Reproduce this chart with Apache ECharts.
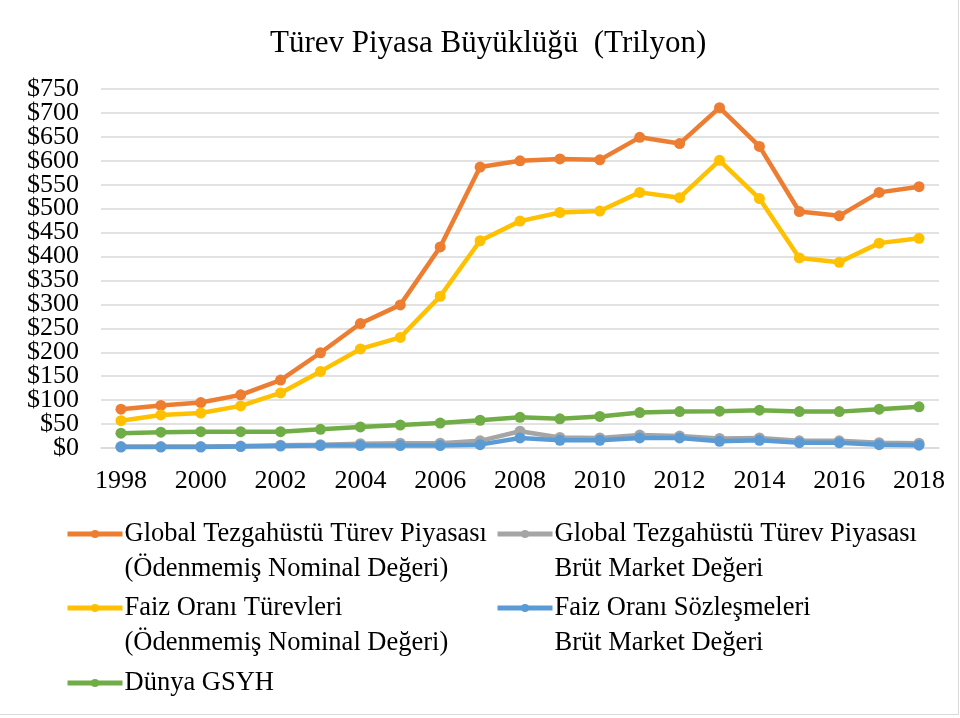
<!DOCTYPE html>
<html>
<head>
<meta charset="utf-8">
<script src="https://cdn.jsdelivr.net/npm/echarts@6/dist/echarts.min.js"></script>
<style>
html,body{margin:0;padding:0;background:#fff;}
#c{position:absolute;left:0;top:0;width:958px;height:714px;border:1px solid #d9d9d9;border-top:none;border-left:none;}
</style>
</head>
<body>
<div id="c"></div>
<script>
var years = ['1998','1999','2000','2001','2002','2003','2004','2005','2006','2007','2008','2009','2010','2011','2012','2013','2014','2015','2016','2017','2018'];
var otcNotional = [81, 89, 95, 111, 142, 199, 260, 299, 420, 587, 600, 604, 602, 649, 636, 711, 630, 494, 485, 534, 546];
var otcGross = [3, 3, 3, 4, 6, 7, 9, 10, 10, 15, 35, 22, 21, 27, 25, 20, 21, 15, 15, 11, 10];
var irNotional = [57, 69, 73, 88, 115, 160, 207, 231, 317, 433, 474, 492, 495, 534, 523, 601, 521, 397, 388, 428, 438];
var irGross = [2, 2, 2, 3, 4, 5, 5, 5, 5, 7, 21, 16, 16, 21, 21, 14, 16, 11, 11, 7, 6];
var worldGdp = [31, 33, 34, 34, 34, 39, 44, 48, 52, 58, 64, 61, 66, 74, 76, 77, 79, 76, 76, 81, 86];
var names = [
  'Global Tezgahüstü Türev Piyasası\n(Ödenmemiş Nominal Değeri)',
  'Global Tezgahüstü Türev Piyasası\nBrüt Market Değeri',
  'Faiz Oranı Türevleri\n(Ödenmemiş Nominal Değeri)',
  'Faiz Oranı Sözleşmeleri\nBrüt Market Değeri',
  'Dünya GSYH'
];
var colors = ['#ED7D31', '#A5A5A5', '#FFC000', '#5B9BD5', '#70AD47'];
var datas = [otcNotional, otcGross, irNotional, irGross, worldGdp];
var FONT = '"Liberation Serif","Times New Roman",serif';

var chart = echarts.init(document.getElementById('c'));
var series = names.map(function(n, i){
  return {
    name: n, type: 'line', data: datas[i], yAxisIndex: 0,
    symbol: 'circle', symbolSize: 11,
    lineStyle: {width: 4.5, color: colors[i]},
    itemStyle: {color: colors[i]},
    z: 2 + i
  };
});
// icon center rows: 534, 608, 683 ; columns: 65, 495
var LH = 35;
var legendDefs = [[65, 534], [495, 534], [65, 608], [495, 608], [65, 683]];
var legends = names.map(function(n, i){
  var multi = n.indexOf('\n') >= 0;
  var h = multi ? LH * 3 : LH;
  return {
    data: [n], left: legendDefs[i][0], top: legendDefs[i][1] - h / 2,
    padding: 0, itemWidth: 55, itemHeight: 10, itemGap: 0,
    lineStyle: {width: 5},
    formatter: function(name){ return name.indexOf('\n') >= 0 ? '\n' + name : name; },
    textStyle: {fontFamily: FONT, fontSize: 26.5, color: '#000', lineHeight: LH, padding: [0, 0, 0, -3]},
    selectedMode: false
  };
});
function yAxisDef(rem, showSplit) {
  return {
    type: 'value', min: 0, max: 750, interval: 50, position: 'left', offset: 0,
    axisLine: {show: false}, axisTick: {show: false},
    axisLabel: {fontFamily: FONT, fontSize: 26, color: '#000', margin: 22, showMinLabel: true, showMaxLabel: true,
      formatter: function(v){ return (v % 100 === rem) ? '$' + v : ''; }},
    splitLine: {show: showSplit, lineStyle: {color: '#d9d9d9', width: 1.5}}
  };
}
chart.setOption({
  animation: false,
  backgroundColor: '#fff',
  title: {
    text: 'Türev Piyasa Büyüklüğü  (Trilyon)', left: 265, top: 23,
    textStyle: {fontFamily: FONT, fontSize: 31, fontWeight: 'normal', color: '#000'}
  },
  legend: legends,
  grid: {left: 101, right: 19, top: 89, bottom: 266},
  xAxis: {
    type: 'category', data: years, boundaryGap: true,
    axisLine: {lineStyle: {color: '#d9d9d9', width: 1.5}},
    axisTick: {show: false},
    axisLabel: {interval: 1, fontFamily: FONT, fontSize: 26, color: '#000', margin: 20}
  },
  yAxis: [yAxisDef(0, true), yAxisDef(50, false)],
  series: series
});
</script>
</body>
</html>
